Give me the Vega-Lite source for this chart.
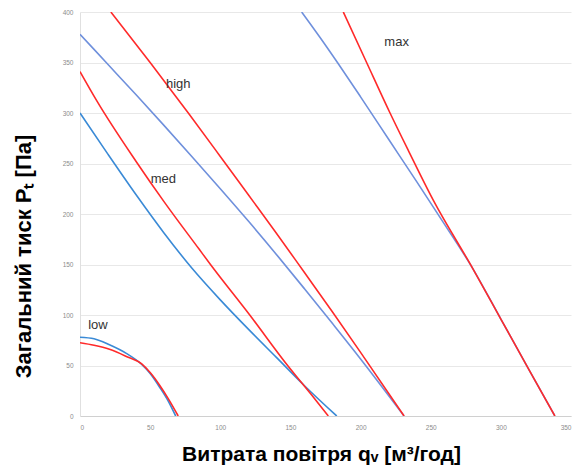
{
  "$schema": "https://vega.github.io/schema/vega-lite/v6.json",
  "width": 491,
  "height": 404,
  "autosize": "none",
  "padding": {"left": 80, "top": 12, "right": 6, "bottom": 55},
  "background": "white",
  "config": {
    "view": {"stroke": null},
    "font": "Liberation Sans"
  },
  "datasets": {
    "curves": [
      {"s": "low_b", "k": "A", "q": 0, "p": 78},
      {"s": "low_b", "k": "A", "q": 10, "p": 76.5},
      {"s": "low_b", "k": "A", "q": 21, "p": 70.5},
      {"s": "low_b", "k": "A", "q": 33, "p": 62},
      {"s": "low_b", "k": "A", "q": 44, "p": 51},
      {"s": "low_b", "k": "A", "q": 50, "p": 42},
      {"s": "low_b", "k": "A", "q": 57, "p": 28},
      {"s": "low_b", "k": "A", "q": 63, "p": 14.5},
      {"s": "low_b", "k": "A", "q": 68.2, "p": 0},
      {"s": "low_r", "k": "R", "q": 0, "p": 72.5},
      {"s": "low_r", "k": "R", "q": 10, "p": 70},
      {"s": "low_r", "k": "R", "q": 21, "p": 66},
      {"s": "low_r", "k": "R", "q": 33, "p": 59},
      {"s": "low_r", "k": "R", "q": 44, "p": 51.5},
      {"s": "low_r", "k": "R", "q": 50, "p": 43},
      {"s": "low_r", "k": "R", "q": 57, "p": 30},
      {"s": "low_r", "k": "R", "q": 63, "p": 17},
      {"s": "low_r", "k": "R", "q": 70, "p": 0},
      {"s": "med_b", "k": "A", "q": 0, "p": 300},
      {"s": "med_b", "k": "A", "q": 20, "p": 259},
      {"s": "med_b", "k": "A", "q": 40, "p": 219},
      {"s": "med_b", "k": "A", "q": 60, "p": 181},
      {"s": "med_b", "k": "A", "q": 80, "p": 146},
      {"s": "med_b", "k": "A", "q": 100, "p": 115},
      {"s": "med_b", "k": "A", "q": 120, "p": 86},
      {"s": "med_b", "k": "A", "q": 140, "p": 58},
      {"s": "med_b", "k": "A", "q": 160, "p": 30},
      {"s": "med_b", "k": "A", "q": 183, "p": 0},
      {"s": "med_r", "k": "R", "q": 0, "p": 341},
      {"s": "med_r", "k": "R", "q": 12, "p": 312},
      {"s": "med_r", "k": "R", "q": 40, "p": 252},
      {"s": "med_r", "k": "R", "q": 60, "p": 212},
      {"s": "med_r", "k": "R", "q": 85, "p": 165},
      {"s": "med_r", "k": "R", "q": 93, "p": 150},
      {"s": "med_r", "k": "R", "q": 121, "p": 100},
      {"s": "med_r", "k": "R", "q": 148, "p": 50},
      {"s": "med_r", "k": "R", "q": 165, "p": 21},
      {"s": "med_r", "k": "R", "q": 177, "p": 0},
      {"s": "high_b", "k": "B", "q": 0, "p": 378},
      {"s": "high_b", "k": "B", "q": 20, "p": 348},
      {"s": "high_b", "k": "B", "q": 40, "p": 318},
      {"s": "high_b", "k": "B", "q": 60, "p": 287.5},
      {"s": "high_b", "k": "B", "q": 80, "p": 256.5},
      {"s": "high_b", "k": "B", "q": 100, "p": 225},
      {"s": "high_b", "k": "B", "q": 120, "p": 193},
      {"s": "high_b", "k": "B", "q": 140, "p": 160},
      {"s": "high_b", "k": "B", "q": 160, "p": 126},
      {"s": "high_b", "k": "B", "q": 180, "p": 91.5},
      {"s": "high_b", "k": "B", "q": 200, "p": 56.5},
      {"s": "high_b", "k": "B", "q": 231, "p": 0},
      {"s": "high_r", "k": "R", "q": 22, "p": 400},
      {"s": "high_r", "k": "R", "q": 50, "p": 350},
      {"s": "high_r", "k": "R", "q": 78, "p": 298.5},
      {"s": "high_r", "k": "R", "q": 100, "p": 257},
      {"s": "high_r", "k": "R", "q": 120, "p": 219},
      {"s": "high_r", "k": "R", "q": 140, "p": 181},
      {"s": "high_r", "k": "R", "q": 160, "p": 142},
      {"s": "high_r", "k": "R", "q": 180, "p": 103},
      {"s": "high_r", "k": "R", "q": 200, "p": 63},
      {"s": "high_r", "k": "R", "q": 231, "p": 0},
      {"s": "max_b", "k": "B", "q": 158, "p": 400},
      {"s": "max_b", "k": "B", "q": 171, "p": 375},
      {"s": "max_b", "k": "B", "q": 184, "p": 349},
      {"s": "max_b", "k": "B", "q": 200, "p": 316},
      {"s": "max_b", "k": "B", "q": 220, "p": 274},
      {"s": "max_b", "k": "B", "q": 240, "p": 232},
      {"s": "max_b", "k": "B", "q": 260, "p": 189.5},
      {"s": "max_b", "k": "B", "q": 280, "p": 146},
      {"s": "max_b", "k": "B", "q": 300, "p": 96},
      {"s": "max_b", "k": "B", "q": 320, "p": 46},
      {"s": "max_b", "k": "B", "q": 338.5, "p": 0},
      {"s": "max_r", "k": "R", "q": 187.7, "p": 400},
      {"s": "max_r", "k": "R", "q": 204.3, "p": 350},
      {"s": "max_r", "k": "R", "q": 221, "p": 300},
      {"s": "max_r", "k": "R", "q": 234, "p": 263},
      {"s": "max_r", "k": "R", "q": 251.8, "p": 213.7},
      {"s": "max_r", "k": "R", "q": 280, "p": 146},
      {"s": "max_r", "k": "R", "q": 300, "p": 96},
      {"s": "max_r", "k": "R", "q": 320, "p": 46},
      {"s": "max_r", "k": "R", "q": 338.5, "p": 0}
    ],
    "labels": [
      {"t": "low", "q": 12.8, "p": 90},
      {"t": "med", "q": 59.4, "p": 234.5},
      {"t": "high", "q": 70, "p": 328.3},
      {"t": "max", "q": 225.7, "p": 370}
    ]
  },
  "encoding": {
    "x": {
      "field": "q", "type": "quantitative",
      "scale": {"domain": [0, 350], "nice": false, "zero": false},
      "axis": {
        "values": [0, 50, 100, 150, 200, 250, 300, 350],
        "title": "Витрата повітря qᵥ [м³/год]",
        "titleFont": "Liberation Sans",
        "titleFontSize": 21,
        "titleFontWeight": "bold",
        "titleColor": "#000000",
        "titleX": 241,
        "titleY": 44,
        "titleAnchor": "middle",
        "titleAlign": "center",
        "titleBaseline": "alphabetic",
        "labelFontSize": 6.5,
        "labelColor": "#8c8c8c",
        "labelPadding": 8,
        "ticks": false,
        "grid": false,
        "domainColor": "#d0d0d0",
        "domainWidth": 1
      }
    },
    "y": {
      "field": "p", "type": "quantitative",
      "scale": {"domain": [0, 400], "nice": false, "zero": false},
      "axis": {
        "values": [0, 50, 100, 150, 200, 250, 300, 350, 400],
        "title": "Загальний тиск Pₜ [Па]",
        "titleFont": "Liberation Sans",
        "titleFontSize": 22,
        "titleFontWeight": "bold",
        "titleColor": "#000000",
        "titleAngle": -90,
        "titleX": -50,
        "titleY": 244,
        "titleAlign": "center",
        "titleBaseline": "alphabetic",
        "labelFontSize": 6.5,
        "labelColor": "#8c8c8c",
        "labelPadding": 7,
        "ticks": false,
        "grid": true,
        "gridColor": "#e8e8e8",
        "gridWidth": 1,
        "domainColor": "#e0e0e0",
        "domainWidth": 1
      }
    }
  },
  "layer": [
    {
      "data": {"name": "curves"},
      "mark": {"type": "line", "strokeWidth": 1.6, "interpolate": "monotone", "clip": true},
      "encoding": {
        "detail": {"field": "s", "type": "nominal"},
        "color": {
          "field": "k", "type": "nominal",
          "scale": {"domain": ["A", "B", "R"], "range": ["#3a8ad6", "#6f90dc", "#ff2a2a"]},
          "legend": null
        },
        "order": {"field": "q", "type": "quantitative"}
      }
    },
    {
      "data": {"name": "labels"},
      "mark": {"type": "text", "fontSize": 13, "font": "Liberation Sans", "color": "#333333", "align": "center", "baseline": "middle"},
      "encoding": {
        "text": {"field": "t", "type": "nominal"}
      }
    }
  ]
}
